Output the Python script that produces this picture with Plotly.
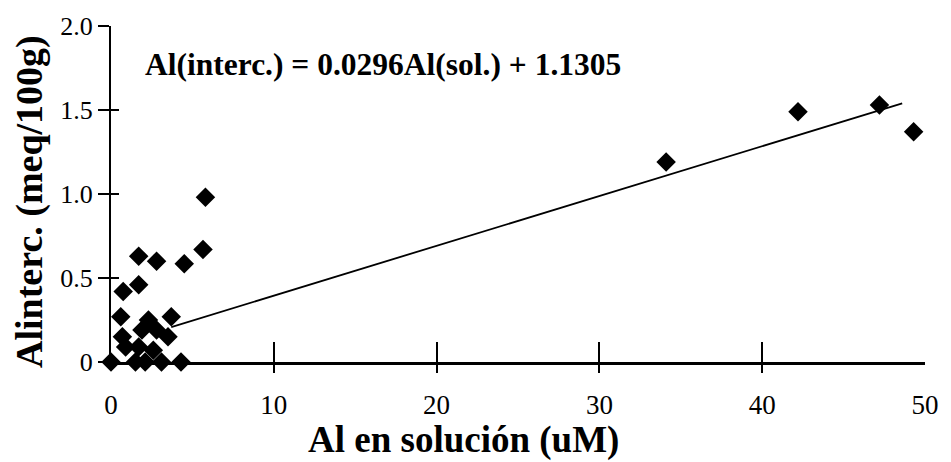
import plotly.graph_objects as go

# Data
al_sol = [0, 0.6, 0.7, 0.75, 0.9, 1.5, 1.7, 1.7, 1.7, 1.9, 2.1, 2.3, 2.6, 2.8, 2.8,
          3.1, 3.5, 3.7, 4.3, 4.5, 5.65, 5.8, 34.1, 42.2, 47.2, 49.3]
al_interc = [0, 0.27, 0.15, 0.42, 0.09, 0, 0.63, 0.46, 0.09, 0.19, 0, 0.25, 0.07, 0.60, 0.19,
             0, 0.15, 0.27, 0, 0.585, 0.67, 0.98, 1.19, 1.49, 1.53, 1.37]

trend_x = [3.7, 48.6]
trend_y = [0.208, 1.54]

x_ticks = [0, 10, 20, 30, 40, 50]
x_tick_marks = [10, 20, 30, 40]
y_ticks = [0, 0.5, 1.0, 1.5, 2.0]
y_tick_text = ["0", "0.5", "1.0", "1.5", "2.0"]
y_inner_ticks = [0.5, 1.0, 1.5]

equation = "Al(interc.) = 0.0296Al(sol.) + 1.1305"
x_title = "Al en solución (uM)"
y_title = "Alinterc. (meq/100g)"

SERIF = "Liberation Serif, Times New Roman, serif"

fig = go.Figure()
fig.add_trace(go.Scatter(x=trend_x, y=trend_y, mode="lines",
                         line=dict(color="black", width=1.8), showlegend=False,
                         hoverinfo="skip"))
fig.add_trace(go.Scatter(x=al_sol, y=al_interc, mode="markers",
                         marker=dict(symbol="diamond", size=15, color="black",
                                     line=dict(width=0)),
                         cliponaxis=False, showlegend=False))
# invisible helpers to keep overlay axes drawn
fig.add_trace(go.Scatter(x=[None], y=[None], xaxis="x2", yaxis="y", showlegend=False))
fig.add_trace(go.Scatter(x=[None], y=[None], xaxis="x3", yaxis="y", showlegend=False))
fig.add_trace(go.Scatter(x=[None], y=[None], xaxis="x", yaxis="y2", showlegend=False))

fig.update_layout(
    width=951, height=462,
    margin=dict(l=111, r=23, t=20, b=100),
    paper_bgcolor="white", plot_bgcolor="white",
    font=dict(family=SERIF, color="black"),
    xaxis=dict(range=[0, 50], tickvals=x_ticks, ticks="", showgrid=False, zeroline=False,
               showline=True, linecolor="black", linewidth=3,
               tickfont=dict(family=SERIF, size=27, color="black"),
               ticklabelstandoff=17),
    xaxis2=dict(range=[0, 50], overlaying="x", anchor="y", tickvals=x_tick_marks,
                ticks="inside", ticklen=20, tickwidth=2, tickcolor="black",
                showticklabels=False, showgrid=False, zeroline=False, showline=False),
    xaxis3=dict(range=[0, 50], overlaying="x", anchor="y", tickvals=x_tick_marks,
                ticks="outside", ticklen=10, tickwidth=2, tickcolor="black",
                showticklabels=False, showgrid=False, zeroline=False, showline=False),
    yaxis=dict(range=[0, 2], tickvals=y_ticks, ticktext=y_tick_text, ticks="outside",
               ticklen=11, tickwidth=2, tickcolor="black", showgrid=False, zeroline=False,
               showline=True, linecolor="black", linewidth=2,
               tickfont=dict(family=SERIF, size=26, color="black")),
    yaxis2=dict(range=[0, 2], overlaying="y", anchor="x", tickvals=y_inner_ticks,
                ticks="inside", ticklen=8, tickwidth=2, tickcolor="black",
                showticklabels=False, showgrid=False, zeroline=False, showline=False),
    annotations=[
        dict(text="<b>" + equation + "</b>", x=1.96, y=1.77, xref="x", yref="y",
             xanchor="left", yanchor="middle", showarrow=False,
             font=dict(family=SERIF, size=31.5, color="black")),
        dict(text="<b>" + x_title + "</b>", x=0.433, y=-0.232, xref="paper", yref="paper",
             xanchor="center", yanchor="middle", showarrow=False,
             font=dict(family=SERIF, size=37, color="black")),
        dict(text="<b>" + y_title + "</b>", x=-0.1004, y=0.477, xref="paper", yref="paper",
             xanchor="center", yanchor="middle", showarrow=False, textangle=-90,
             font=dict(family=SERIF, size=38, color="black")),
    ],
)

fig.write_html("out.html")
